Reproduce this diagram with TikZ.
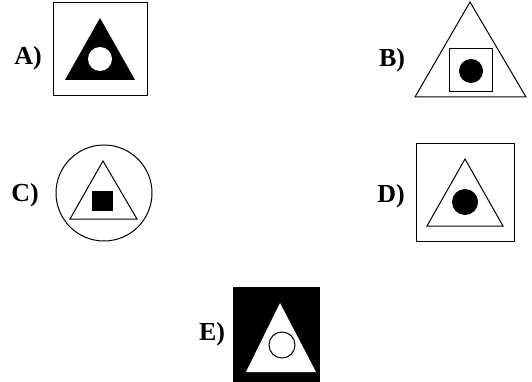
\documentclass[tikz,border=0pt]{standalone}
\usepackage{fontspec}
\setmainfont{Liberation Serif}
\usetikzlibrary{calc}

\begin{document}
\begin{tikzpicture}[x=1pt, y=-1pt, line width=1pt,
  optlabel/.style={font=\bfseries\fontsize{26}{26}\selectfont, inner sep=0pt}]
\useasboundingbox (0,0) rectangle (532,382);

% Option A
\node[optlabel] (labA) at (28,58) {A)};
\draw (53,3) rectangle (147,96);
\fill (100,18) -- (135,80) -- (65,80) -- cycle;
\fill[white] (100,59) circle (12pt);

% Option B
\node[optlabel] (labB) at (392,60) {B)};
\draw (470,2) -- (526,97) -- (415,97) -- cycle;
\draw (449,49) rectangle (492,92);
\fill (471,71) circle (12pt);

% Option C
\node[optlabel] (labC) at (25,195) {C)};
\draw (104,193) circle (48pt);
\draw (103,161) -- (137,219) -- (70,219) -- cycle;
\fill (92,191) rectangle (113,211);

% Option D
\node[optlabel] (labD) at (391,196) {D)};
\draw (416,144) rectangle (514,241);
\draw (465,159) -- (503,226) -- (427,226) -- cycle;
\fill (465,202) circle (13pt);

% Option E
\node[optlabel] (labE) at (212,334) {E)};
\fill (233,287) rectangle (320,382);
\fill[white] (280,303) -- (316,372) -- (246,372) -- cycle;
\draw (282,345) circle (13pt);
\end{tikzpicture}
\end{document}
